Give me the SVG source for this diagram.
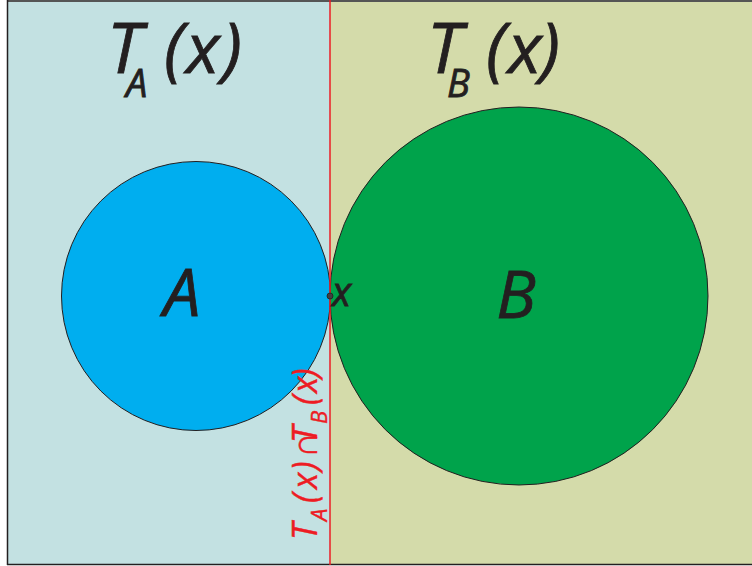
<svg xmlns="http://www.w3.org/2000/svg" width="752" height="566" viewBox="0 0 752 566">
<style>
.lbl{font-family:"Open Sans","Liberation Sans",sans-serif;font-style:italic;fill:#231f20;stroke:#231f20;stroke-width:0.8}
.red{font-family:"Open Sans","Liberation Sans",sans-serif;font-style:italic;fill:#ed1c24;stroke:#ed1c24;stroke-width:0.4}
</style>
<rect width="752" height="566" fill="#ffffff"/>
<g id="regionA"><rect x="7" y="0" width="323" height="565" fill="#c3e1e2"/></g>
<g id="regionB"><rect x="330" y="0" width="422" height="565" fill="#d4dbaa"/></g>
<line x1="7" y1="1" x2="752" y2="1" stroke="#555" stroke-width="2"/>
<line x1="7.5" y1="0" x2="7.5" y2="565" stroke="#231f20" stroke-width="1.5"/>
<line x1="7" y1="564.5" x2="752" y2="564.5" stroke="#231f20" stroke-width="1.5"/>
<g id="circleA"><circle cx="196" cy="296" r="134.5" fill="#00aeef" stroke="#231f20" stroke-width="1"/>
<text class="lbl" x="182" y="316" font-size="66" text-anchor="middle">A</text></g>
<g id="circleB"><circle cx="519" cy="296" r="189" fill="#00a34b" stroke="#231f20" stroke-width="1"/>
<text class="lbl" x="516" y="318" font-size="66" text-anchor="middle">B</text></g>
<g id="connectors"><line x1="330" y1="0" x2="330" y2="565" stroke="#ed1c24" stroke-width="1.5"/></g>
<g id="pointX"><circle cx="330" cy="296" r="3" fill="#414042" stroke="#231f20" stroke-width="0.8"/>
<text class="lbl" x="332" y="306" font-size="40">x</text></g>
<g id="labelTA"><text class="lbl" font-size="70"><tspan x="107" y="73">T</tspan><tspan x="126" y="97" font-size="38">A</tspan><tspan x="164" y="73">(</tspan><tspan x="186" y="73">x</tspan><tspan x="222" y="73">)</tspan></text></g>
<g id="labelTB"><text class="lbl" font-size="70"><tspan x="427" y="73">T</tspan><tspan x="447" y="97" font-size="38">B</tspan><tspan x="486" y="73">(</tspan><tspan x="508" y="73">x</tspan><tspan x="540" y="73">)</tspan></text></g>
<g id="labelIntersect"><text class="red" transform="translate(317,538) rotate(-90)" font-size="34"><tspan x="-2" y="0">T</tspan><tspan x="17" y="10" font-size="22">A</tspan><tspan x="35" y="0">(</tspan><tspan x="49" y="0">x</tspan><tspan x="67" y="0">)</tspan><tspan x="80" y="0" font-style="normal" font-size="36">∩</tspan><tspan x="95" y="0">T</tspan><tspan x="114" y="10" font-size="22">B</tspan><tspan x="133" y="0">(</tspan><tspan x="145" y="0">x</tspan><tspan x="160" y="0">)</tspan></text></g>
</svg>
